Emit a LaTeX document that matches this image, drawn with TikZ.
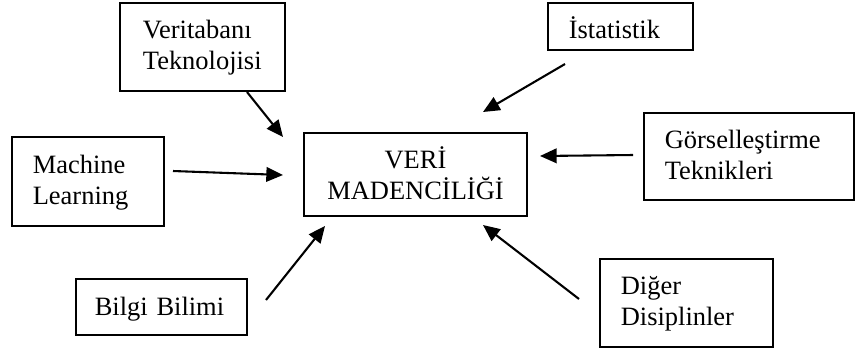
\documentclass[tikz,border=0pt]{standalone}
\usepackage{fontspec}
\setmainfont{Liberation Serif}
\usepackage{tikz}
\usetikzlibrary{positioning,arrows.meta}
\newcommand{\ust}[1][11.5pt]{\rule{0pt}{#1}}

\begin{document}
\begin{tikzpicture}[
  x=0.48pt,y=-0.48pt,
  kutu/.style={draw=black,line width=1pt,inner xsep=10pt,inner ysep=0pt,align=left,font=\fontsize{12.7}{15}\selectfont},
  ok/.style={draw=black,line width=1pt,-{Triangle[length=8pt,width=7pt]}}
]
\useasboundingbox (0,0) rectangle (856,352);
\node[kutu,inner xsep=11pt,text width=57.2pt,minimum height=42.24pt] (verit) at (202.5,47) {\ust Veritabanı\\Teknolojisi\strut};
\node[kutu,text width=52.96pt,minimum height=42.72pt] (mach) at (88,181.5) {\ust Machine\\Learning\strut};
\node[kutu,inner xsep=0pt,align=center,text width=107.04pt,minimum height=39.84pt] (veri) at (415.5,174.5) {\ust[13.5pt]VERİ\\MADENCİLİĞİ\strut};
\node[kutu,text width=49.6pt,minimum height=22.56pt] (ist) at (620.5,26.5) {\ust[16pt]İstatistik\strut};
\node[kutu,text width=80.8pt,minimum height=41.76pt] (gors) at (749,156.5) {\ust Görselleştirme\\Teknikleri\strut};
\node[kutu,inner xsep=9pt,text width=64.08pt,minimum height=26.88pt] (bilgi) at (161.5,307) {\ust[12.6pt]Bilgi Bilimi\strut};
\node[kutu,text width=63.04pt,minimum height=42.24pt] (diger) at (686.5,303) {\ust Diğer\\Disiplinler\strut};
% ok uclari
\coordinate (verit-s) at (247,92);  \coordinate (verit-e) at (283,137);
\coordinate (mach-s) at (173,171);  \coordinate (mach-e) at (283,175);
\coordinate (ist-s) at (565,64);    \coordinate (ist-e) at (483,112);
\coordinate (gors-s) at (633,155);  \coordinate (gors-e) at (540,156);
\coordinate (bilgi-s) at (266,300); \coordinate (bilgi-e) at (325,226);
\coordinate (diger-s) at (579,299); \coordinate (diger-e) at (483,225);
\foreach \k in {verit,mach,ist,gors,bilgi,diger}
  \draw[ok] (\k-s) -- (\k-e);
\end{tikzpicture}
\end{document}
